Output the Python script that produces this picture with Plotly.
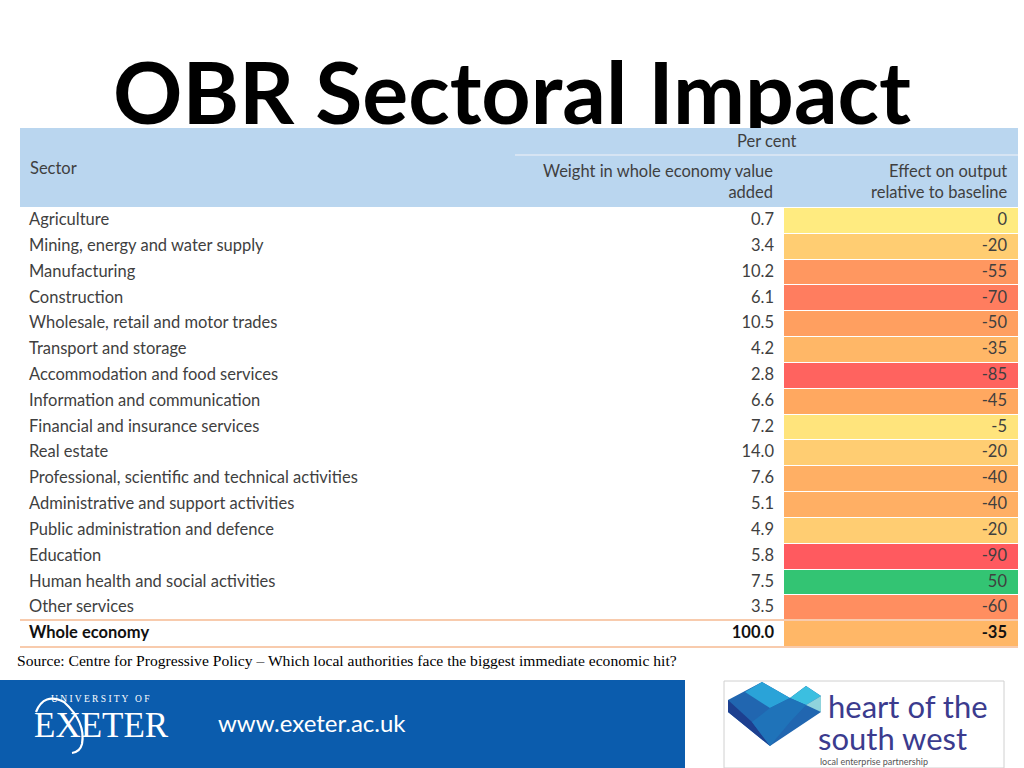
import plotly.graph_objects as go

# ---------------- data ----------------
sectors = [
    "Agriculture",
    "Mining, energy and water supply",
    "Manufacturing",
    "Construction",
    "Wholesale, retail and motor trades",
    "Transport and storage",
    "Accommodation and food services",
    "Information and communication",
    "Financial and insurance services",
    "Real estate",
    "Professional, scientific and technical activities",
    "Administrative and support activities",
    "Public administration and defence",
    "Education",
    "Human health and social activities",
    "Other services",
    "Whole economy",
]
weights = [0.7, 3.4, 10.2, 6.1, 10.5, 4.2, 2.8, 6.6, 7.2, 14.0, 7.6, 5.1, 4.9, 5.8, 7.5, 3.5, 100.0]
effects = [0, -20, -55, -70, -50, -35, -85, -45, -5, -20, -40, -40, -20, -90, 50, -60, -35]

title_text = "OBR Sectoral Impact"
header_sector = "Sector"
header_group = "Per cent"
header_weight = "Weight in whole economy value<br>added"
header_effect = "Effect on output<br>relative to baseline"
source_text = "Source: Centre for Progressive Policy \u2013 Which local authorities face the biggest immediate economic hit?"

# ---------------- style ----------------
W, H = 1024, 768
FONT = "Lato"
FS = 16.5
TXT = "#3f3f3f"
HEAD_BG = "#bad6ef"
effect_scale = [
    [0.0, "#ff5a5f"],
    [45 / 140, "#ffa860"],
    [90 / 140, "#ffeb80"],
    [1.0, "#33c473"],
]

def px(x):
    return x / W

def py(y):
    return 1 - y / H

TABLE_L, TABLE_R = 20, 1018
BODY_T, BODY_B = 208, 647

last = len(sectors) - 1
def bold_last(vals):
    return [f"<b>{v}</b>" if i == last else v for i, v in enumerate(vals)]

text_colors = [TXT] * last + ["#111111"]

fig = go.Figure()

# title as text in a full-page pixel frame (so the table header can cover its descender, as in the original slide)
fig.add_trace(go.Scatter(
    x=[512], y=[102], mode="text", text=[f"<b>{title_text}</b>"],
    textposition="middle center",
    textfont=dict(family=FONT, size=86, color="black"),
    hoverinfo="skip", cliponaxis=False, xaxis="x2", yaxis="y2",
))

# effect column colour cells (heatmap, coloured via colour scale)
fig.add_trace(go.Heatmap(
    z=[[v] for v in effects],
    x=[764, 998],
    y=sectors,
    colorscale=effect_scale,
    zmin=-90, zmax=50,
    showscale=False,
    ygap=1,
    hoverinfo="skip",
    xaxis="x", yaxis="y",
))

# sector names
fig.add_trace(go.Scatter(
    x=[9] * len(sectors), y=sectors, mode="text",
    text=bold_last(sectors), textposition="middle right",
    textfont=dict(family=FONT, size=FS, color=text_colors),
    hoverinfo="skip", cliponaxis=False, xaxis="x", yaxis="y",
))
# weights
fig.add_trace(go.Scatter(
    x=[754] * len(sectors), y=sectors, mode="text",
    text=bold_last([f"{w:.1f}" for w in weights]), textposition="middle left",
    textfont=dict(family=FONT, size=FS, color=text_colors),
    hoverinfo="skip", cliponaxis=False, xaxis="x", yaxis="y",
))
# effects
fig.add_trace(go.Scatter(
    x=[987] * len(sectors), y=sectors, mode="text",
    text=bold_last([f"{e:d}" for e in effects]), textposition="middle left",
    textfont=dict(family=FONT, size=FS, color=text_colors),
    hoverinfo="skip", cliponaxis=False, xaxis="x", yaxis="y",
))

shapes = []
# header background (drawn above the title trace)
shapes.append(dict(type="rect", xref="paper", yref="paper",
                   x0=px(TABLE_L), x1=px(TABLE_R), y0=py(207), y1=py(128),
                   fillcolor=HEAD_BG, line=dict(width=0), layer="above"))
shapes.append(dict(type="line", xref="paper", yref="paper",
                   x0=px(515), x1=px(TABLE_R), y0=py(155), y1=py(155),
                   line=dict(color="#dfe9f4", width=1.5), layer="above"))
# whole economy borders
for yy in (620, 647):
    shapes.append(dict(type="line", xref="paper", yref="paper",
                       x0=px(TABLE_L), x1=px(TABLE_R), y0=py(yy), y1=py(yy),
                       line=dict(color="#f8cbad", width=2)))
# footer blue band
shapes.append(dict(type="rect", xref="paper", yref="paper",
                   x0=0, x1=px(685), y0=0, y1=py(680),
                   fillcolor="#0b5cad", line=dict(width=0), layer="below"))

def path_px(pts):
    return "M " + " L ".join(f"{px(a):.5f},{py(b):.5f}" for a, b in pts) + " Z"

# exeter swoosh
shapes.append(dict(type="path", xref="paper", yref="paper",
                   path=(f"M {px(36):.5f},{py(712):.5f} "
                         f"Q {px(44):.5f},{py(692):.5f} {px(64):.5f},{py(702):.5f} "
                         f"Q {px(86):.5f},{py(722):.5f} {px(82):.5f},{py(744):.5f} "
                         f"Q {px(80):.5f},{py(752):.5f} {px(72):.5f},{py(753):.5f}"),
                   line=dict(color="white", width=2.2)))
# right logo box
shapes.append(dict(type="rect", xref="paper", yref="paper",
                   x0=px(724), x1=px(1004), y0=py(768), y1=py(681),
                   fillcolor="white", line=dict(color="#d0d0d0", width=1), layer="below"))
# heart logo polygons
heart = [
    ([(728, 700), (762, 682), (790, 698), (806, 686), (821, 696), (821, 712), (770, 746), (728, 712)], "#2166b0"),
    ([(762, 682), (790, 698), (770, 708), (745, 692)], "#2aa3d8"),
    ([(790, 698), (806, 686), (821, 696), (806, 705)], "#3bbfe0"),
    ([(806, 705), (821, 696), (821, 712)], "#8fd3dc"),
    ([(728, 712), (770, 746), (752, 722), (728, 700)], "#1d3f8f"),
    ([(770, 708), (790, 698), (806, 705), (790, 722), (770, 746), (752, 722)], "#1f73b9"),
]
for pts, col in heart:
    shapes.append(dict(type="path", xref="paper", yref="paper", path=path_px(pts),
                       fillcolor=col, line=dict(width=0)))

def ann(text, x, y, xanchor, size, color, family=FONT, align="left"):
    return dict(text=text, x=px(x), y=py(y), xref="paper", yref="paper",
                showarrow=False, xanchor=xanchor, yanchor="middle", align=align,
                font=dict(family=family, size=size, color=color))

annotations = [
    ann(header_sector, 28, 168, "left", FS, TXT),
    ann(header_group, 767, 141, "center", FS, TXT),
    ann(header_weight, 775, 182, "right", FS, TXT, align="right"),
    ann(header_effect, 1010, 182, "right", FS, TXT, align="right"),
    ann(source_text, 15, 660, "left", 15.6, "black", family="Liberation Serif"),
    ann("U N I V E R S I T Y   O F", 100, 699, "center", 9.5, "white", family="Liberation Serif"),
    ann("EXETER", 101, 725, "center", 35, "white", family="Liberation Serif"),
    ann("www.exeter.ac.uk", 312, 722, "center", 24, "white"),
    ann("heart of the", 826, 706, "left", 31, "#3b3b8e"),
    ann("south west", 816, 738, "left", 31, "#3b3b8e"),
    ann("local enterprise partnership", 818, 761, "left", 9, "#555555"),
]

fig.update_layout(
    width=W, height=H,
    margin=dict(l=0, r=0, t=0, b=0),
    paper_bgcolor="white", plot_bgcolor="rgba(0,0,0,0)",
    showlegend=False,
    xaxis=dict(domain=[px(TABLE_L), px(TABLE_R)], range=[0, TABLE_R - TABLE_L],
               visible=False, fixedrange=True),
    yaxis=dict(domain=[py(BODY_B), py(BODY_T)], type="category",
               categoryorder="array", categoryarray=sectors,
               range=[len(sectors) - 0.5, -0.5], autorange=False,
               visible=False, fixedrange=True),
    xaxis2=dict(domain=[0, 1], range=[0, W], visible=False, fixedrange=True, anchor="y2"),
    yaxis2=dict(domain=[0, 1], range=[H, 0], visible=False, fixedrange=True, anchor="x2"),
    shapes=shapes,
    annotations=annotations,
)

fig.write_html("out.html", config={"displayModeBar": False},
               post_script="document.body.style.margin='0';document.body.style.overflow='hidden';")
